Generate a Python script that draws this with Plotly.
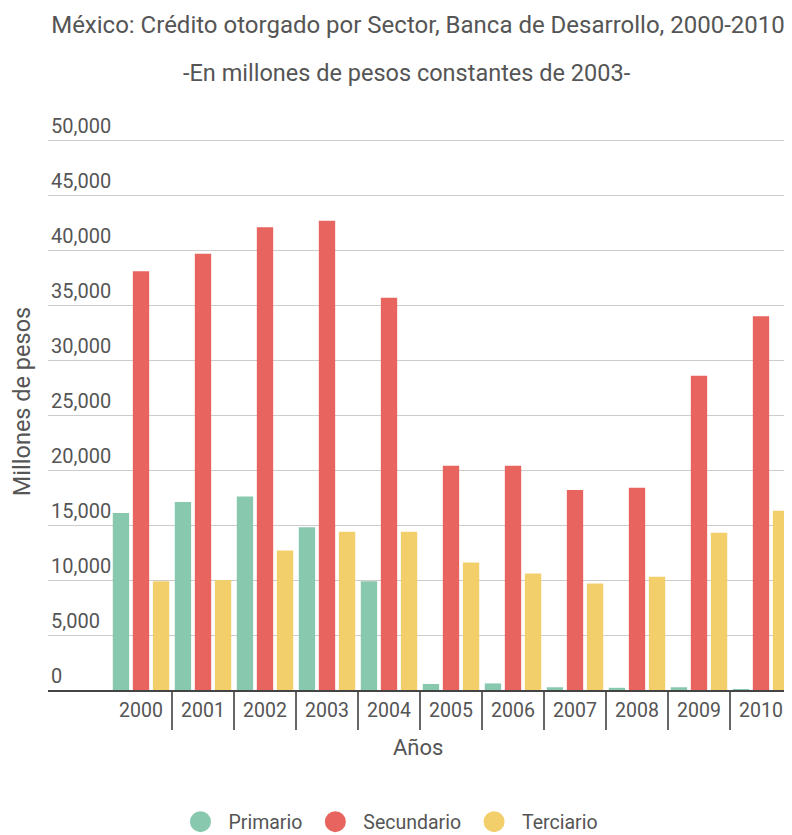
import plotly.graph_objects as go

years = ["2000", "2001", "2002", "2003", "2004", "2005", "2006", "2007", "2008", "2009", "2010"]
primario = [16100, 17100, 17600, 14800, 9900, 550, 600, 250, 200, 250, 50]
secundario = [38100, 39700, 42100, 42700, 35700, 20400, 20400, 18200, 18400, 28600, 34000]
terciario = [9900, 10000, 12700, 14400, 14400, 11600, 10600, 9700, 10300, 14300, 16300]

series_names = ["Primario", "Secundario", "Terciario"]
series_values = [primario, secundario, terciario]
colors = ["#88c8ae", "#e8655f", "#f3cf6c"]

y_ticks = [0, 5000, 10000, 15000, 20000, 25000, 30000, 35000, 40000, 45000, 50000]
y_tick_text = ["0", "5,000", "10,000", "15,000", "20,000", "25,000", "30,000", "35,000", "40,000", "45,000", "50,000"]

title_text = "México: Crédito otorgado por Sector, Banca de Desarrollo, 2000-2010"
subtitle_text = "-En millones de pesos constantes de 2003-"
x_title = "Años"
y_title = "Millones de pesos"

FONT = "Roboto, 'Open Sans', sans-serif"
TXT = "#555555"

# The page body has an 8px margin: figure coords = page coords - 8
OFF = 8
W, H = 784, 827
# plot area in figure coords
PL, PR, PT, PB = 48 - OFF, 792 - OFF, 113 - OFF, 690 - OFF

def py_to_paper(py_page):
    return (PB - (py_page - OFF)) / float(PB - PT)

def px_to_paper(px_page):
    return ((px_page - OFF) - PL) / float(PR - PL)

fig = go.Figure()
for name, vals, col in zip(series_names, series_values, colors):
    fig.add_trace(go.Bar(x=years, y=vals, name=name, marker=dict(color=col, line=dict(width=0)),
                         showlegend=False))
for name, col in zip(series_names, colors):
    fig.add_trace(go.Scatter(x=[None], y=[None], mode="markers", name=name,
                             marker=dict(color=col, size=22, symbol="circle",
                                         line=dict(color=col, width=5)),
                             showlegend=True))

fig.update_layout(
    width=W, height=H,
    margin=dict(l=PL, r=W - PR, t=PT, b=H - PB, autoexpand=False),
    paper_bgcolor="white", plot_bgcolor="white",
    font=dict(family=FONT, color=TXT, size=18),
    barmode="group", bargap=0.03, bargroupgap=0.185,
    title=dict(text=title_text, x=(418 - OFF) / W, xanchor="center", xref="container",
               y=1 - (25 - OFF) / H, yanchor="middle", yref="container",
               font=dict(family=FONT, size=24, color=TXT)),
    annotations=[
        dict(text=subtitle_text, x=px_to_paper(406.5), y=py_to_paper(73), xref="paper", yref="paper",
             xanchor="center", yanchor="middle", showarrow=False,
             font=dict(family=FONT, size=23.5, color=TXT)),
        dict(text=x_title, x=px_to_paper(418), y=py_to_paper(747), xref="paper", yref="paper",
             xanchor="center", yanchor="middle", showarrow=False,
             font=dict(family=FONT, size=22, color=TXT)),
    ],
    legend=dict(orientation="h", xref="container", yref="container", x=(388 - OFF) / W,
                xanchor="center", y=1 - (822 - OFF) / H, yanchor="middle",
                font=dict(family=FONT, size=19.5, color=TXT),
                itemsizing="trace", itemwidth=46),
)

fig.update_xaxes(
    type="category", range=[-1.5, 10.5], tickson="boundaries",
    ticks="outside", ticklen=38, tickwidth=1.5, tickcolor="#666666",
    ticklabelstandoff=2, automargin=False,
    showline=True, linecolor="#444444", linewidth=2,
    showgrid=False, tickfont=dict(family=FONT, size=19.5, color=TXT),
)
fig.update_yaxes(
    range=[0, 52500], tickmode="array", tickvals=y_ticks, ticktext=y_tick_text,
    ticklabelposition="inside top", showgrid=True, gridcolor="#cccccc", gridwidth=1,
    zeroline=False, showline=False, ticks="", automargin=False,
    tickfont=dict(family=FONT, size=20, color=TXT),
    title=dict(text=y_title, standoff=18, font=dict(family=FONT, size=23.5, color=TXT)),
)

fig.write_html("out.html")
